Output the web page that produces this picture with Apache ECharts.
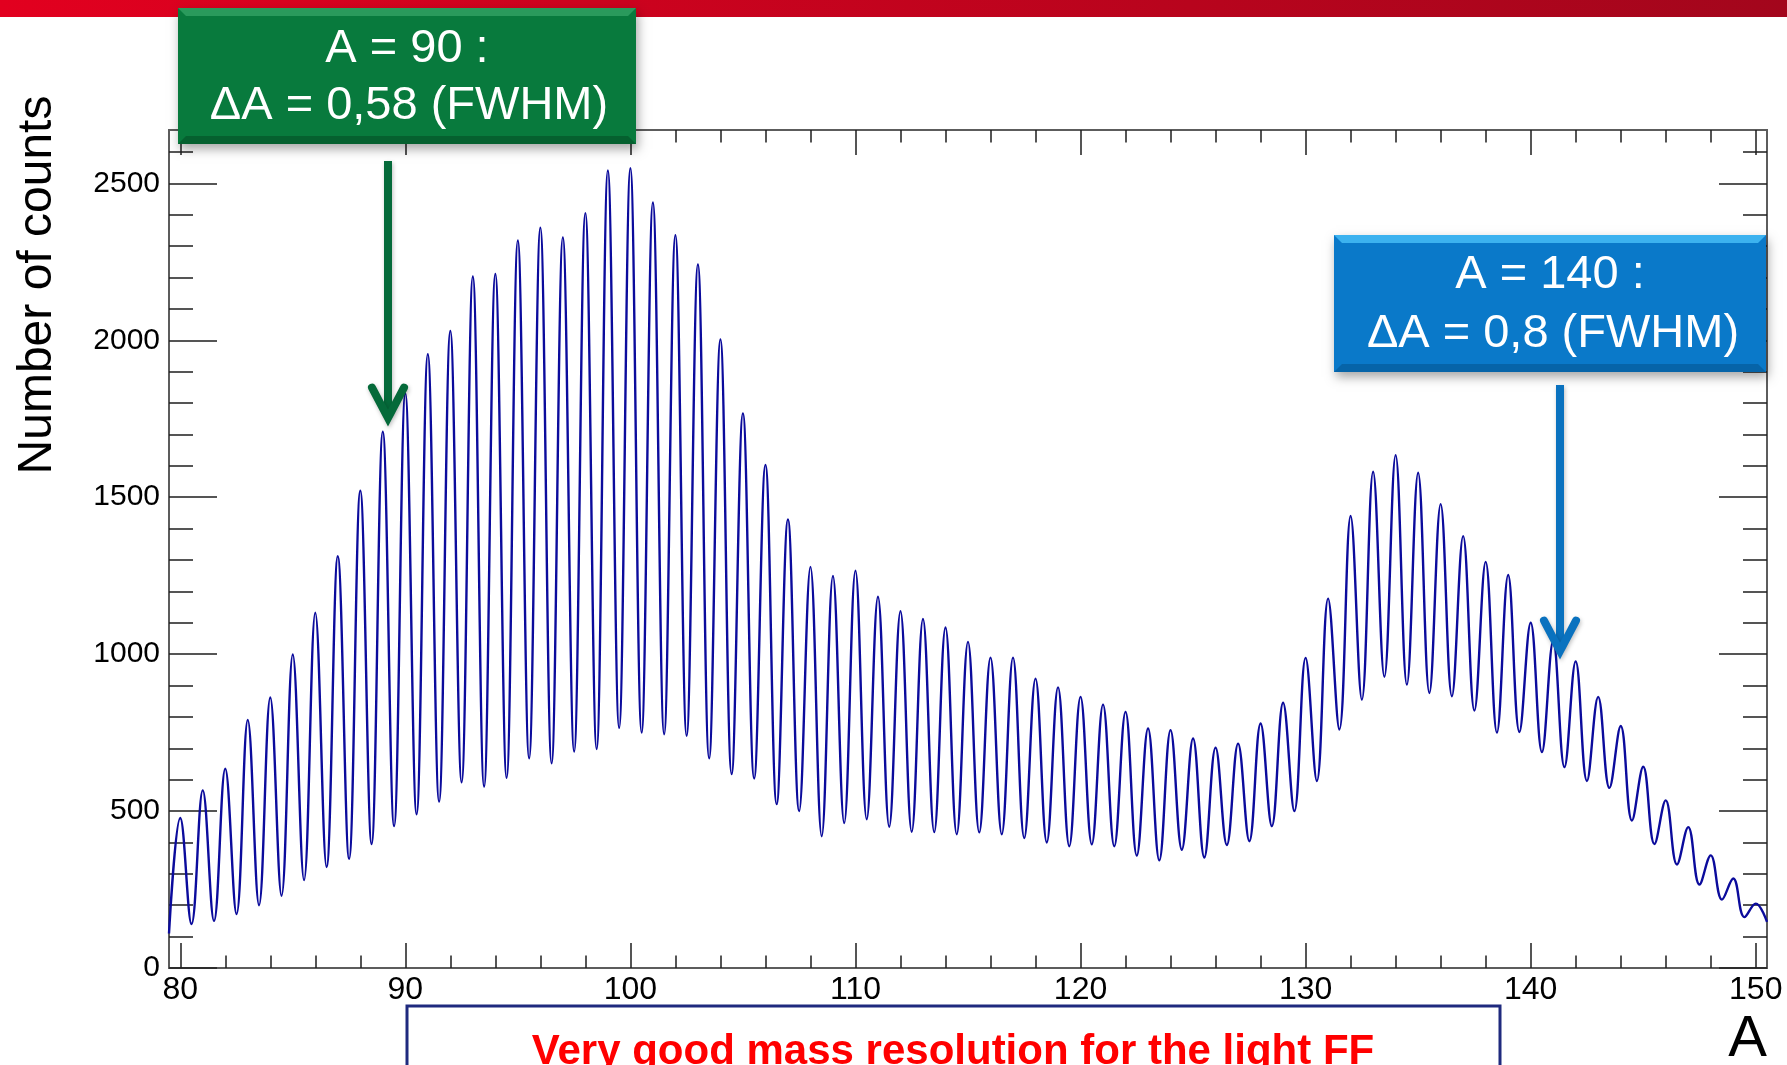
<!DOCTYPE html>
<html>
<head>
<meta charset="utf-8">
<script src="https://cdn.jsdelivr.net/npm/echarts@6/dist/echarts.min.js"></script>
<style>
  html, body { margin: 0; padding: 0; background: #ffffff; }
  #chart { width: 1787px; height: 1065px; }
</style>
</head>
<body>
<div id="chart"></div>
<script>
// Fission-fragment mass distribution: counts per mass number A.
// Peaks sit on integer A, valleys half-way between neighbouring masses.
const massNumbers = [
  80, 81, 82, 83, 84, 85, 86, 87, 88, 89,
  90, 91, 92, 93, 94, 95, 96, 97, 98, 99,
  100, 101, 102, 103, 104, 105, 106, 107, 108, 109,
  110, 111, 112, 113, 114, 115, 116, 117, 118, 119,
  120, 121, 122, 123, 124, 125, 126, 127, 128, 129,
  130, 131, 132, 133, 134, 135, 136, 137, 138, 139,
  140, 141, 142, 143, 144, 145, 146, 147, 148, 149,
  150
];
const peakCounts = [
  478, 566, 635, 790, 862, 999, 1132, 1312, 1521, 1709,
  1831, 1956, 2030, 2203, 2211, 2318, 2359, 2328, 2405, 2541,
  2548, 2439, 2335, 2242, 2003, 1767, 1603, 1429, 1278, 1249,
  1266, 1183, 1137, 1112, 1085, 1039, 989, 989, 922, 894,
  864, 839, 816, 763, 758, 731, 702, 715, 779, 845,
  988, 1177, 1440, 1581, 1634, 1578, 1478, 1376, 1294, 1252,
  1100, 1042, 977, 864, 771, 641, 534, 449, 359, 285,
  205
];
// valleyCounts[i] lies between massNumbers[i] and massNumbers[i + 1]
const valleyCounts = [
  140, 150, 172, 200, 230, 280, 322, 348, 395, 452,
  490, 530, 592, 578, 606, 668, 652, 690, 698, 765,
  750, 745, 740, 668, 618, 604, 522, 500, 420, 462,
  474, 450, 434, 433, 426, 432, 426, 414, 400, 388,
  394, 388, 358, 343, 377, 352, 392, 404, 452, 500,
  596, 760, 855, 928, 903, 876, 866, 820, 750, 752,
  688, 640, 596, 574, 470, 395, 330, 266, 218, 162
];
const edgeCounts = [110, 147];   // first and last bin of the spectrum

const xMajorTicks = [80, 90, 100, 110, 120, 130, 140, 150];
const xMinorTicks = [82, 84, 86, 88, 92, 94, 96, 98, 102, 104, 106, 108, 112, 114, 116, 118,
                     122, 124, 126, 128, 132, 134, 136, 138, 142, 144, 146, 148];
const yMajorTicks = [0, 500, 1000, 1500, 2000, 2500];
const yMinorTicks = [100, 200, 300, 400, 600, 700, 800, 900, 1100, 1200, 1300, 1400,
                     1600, 1700, 1800, 1900, 2100, 2200, 2300, 2400, 2600];

const xRange = [79.5, 150.5];
const yRange = [0, 2670];

// interleave peaks and valleys into one trace
const spectrum = [[xRange[0], edgeCounts[0]]];
massNumbers.forEach((a, i) => {
  spectrum.push([a, peakCounts[i]]);
  if (i < valleyCounts.length) spectrum.push([a + 0.5, valleyCounts[i]]);
});
spectrum.push([xRange[1], edgeCounts[1]]);

const FONT = "'Liberation Sans', Arial, Helvetica, sans-serif";
const frameColor = '#5c5c5c';
const tickColor = '#1e1e1e';
const plain = (v) => String(v);

function xAxisDef(position, ticks, len, labels) {
  return {
    type: 'value', position: position, min: xRange[0], max: xRange[1],
    axisLine: { show: true, onZero: false, lineStyle: { color: frameColor, width: 2 } },
    axisTick: { show: true, inside: true, length: len, customValues: ticks,
                lineStyle: { color: tickColor, width: 1.5 } },
    axisLabel: labels
      ? { show: true, customValues: labels, formatter: plain, fontSize: 32, color: '#000',
          margin: 6, fontFamily: FONT }
      : { show: false },
    splitLine: { show: false }, minorTick: { show: false }
  };
}
function yAxisDef(position, ticks, len, labels) {
  return {
    type: 'value', position: position, min: yRange[0], max: yRange[1],
    axisLine: { show: true, onZero: false, lineStyle: { color: frameColor, width: 2 } },
    axisTick: { show: true, inside: true, length: len, customValues: ticks,
                lineStyle: { color: tickColor, width: 1.5 } },
    axisLabel: labels
      ? { show: true, customValues: labels, formatter: plain, fontSize: 30, color: '#000',
          margin: 9, fontFamily: FONT }
      : { show: false },
    splitLine: { show: false }, minorTick: { show: false }
  };
}

function bevelBox(x, y, w, h, base, light, dark) {
  const b = 8;
  return [
    { type: 'rect', z: 100, shape: { x: x, y: y, width: w, height: h },
      style: { fill: base, shadowBlur: 10, shadowOffsetX: 2, shadowOffsetY: 5,
               shadowColor: 'rgba(0,0,0,0.35)' } },
    { type: 'polygon', z: 101,
      shape: { points: [[x, y], [x + w, y], [x + w - b, y + b], [x + b, y + b]] },
      style: { fill: light } },
    { type: 'polygon', z: 101,
      shape: { points: [[x, y + h], [x + w, y + h], [x + w - b, y + h - b], [x + b, y + h - b]] },
      style: { fill: dark } }
  ];
}

function label(text, x, y, size, extra) {
  return Object.assign({
    type: 'text', z: 110, x: x, y: y,
    style: { text: text, fontSize: size, fontFamily: FONT, fill: '#ffffff',
             textAlign: 'center', textVerticalAlign: 'middle' }
  }, extra || {});
}

function arrow(x, yTop, yTip, color, head) {
  return [
    { type: 'line', z: 105, shape: { x1: x, y1: yTop, x2: x, y2: yTip - 4 },
      style: { stroke: color, lineWidth: 8, shadowBlur: 4, shadowOffsetX: 1, shadowOffsetY: 2,
               shadowColor: 'rgba(0,0,0,0.25)' } },
    { type: 'polyline', z: 105,
      shape: { points: [[x - head, yTip - head * 1.9], [x, yTip], [x + head, yTip - head * 1.9]] },
      style: { stroke: color, fill: null, lineWidth: 8, lineCap: 'round', lineJoin: 'miter',
               shadowBlur: 4, shadowOffsetX: 1, shadowOffsetY: 2, shadowColor: 'rgba(0,0,0,0.25)' } }
  ];
}

const graphics = [].concat(
  [{ type: 'rect', z: 90, shape: { x: 0, y: 0, width: 1787, height: 17 },
     style: { fill: new echarts.graphic.LinearGradient(0, 0, 1, 0, [
       { offset: 0, color: '#e2001f' }, { offset: 1, color: '#a3061c' }]) } }],
  bevelBox(178, 8, 458, 136, '#087a3d', '#2a9a5c', '#05602f'),
  [label('A = 90 :', 407, 48.7, 47), label('\u0394A = 0,58 (FWHM)', 409, 105.7, 47)],
  arrow(388, 161, 418, '#056a3a', 16),
  bevelBox(1334, 235, 432, 137, '#0a79c9', '#3cb2ef', '#0664a8'),
  [label('A = 140 :', 1550, 275.4, 47), label('\u0394A = 0,8 (FWHM)', 1553, 333.7, 47)],
  arrow(1560, 385, 651, '#0a72bf', 16),
  [
    { type: 'text', z: 110, x: 38, y: 285, rotation: Math.PI / 2,
      style: { text: 'Number of counts', fontSize: 48, fontFamily: FONT, fill: '#000',
               textAlign: 'center', textVerticalAlign: 'middle' } },
    { type: 'text', z: 110, x: 1767, y: 1040,
      style: { text: 'A', fontSize: 58, fontFamily: FONT, fill: '#000',
               textAlign: 'right', textVerticalAlign: 'middle' } },
    { type: 'rect', z: 95, shape: { x: 407, y: 1006, width: 1093, height: 80 },
      style: { fill: '#ffffff', stroke: '#1f2a7e', lineWidth: 3 } },
    { type: 'text', z: 110, x: 953, y: 1052,
      style: { text: 'Very good mass resolution for the light FF', fontSize: 42, fontWeight: 'bold',
               fontFamily: FONT, fill: '#ff0000', textAlign: 'center', textVerticalAlign: 'middle' } }
  ]
);

const chart = echarts.init(document.getElementById('chart'), null, { renderer: 'canvas' });
chart.setOption({
  animation: false,
  backgroundColor: '#ffffff',
  grid: { left: 169, top: 130, width: 1598, height: 838, containLabel: false },
  xAxis: [
    xAxisDef('bottom', xMajorTicks, 25, xMajorTicks),
    xAxisDef('bottom', xMinorTicks, 12.5, null),
    xAxisDef('top', xMajorTicks, 25, null),
    xAxisDef('top', xMinorTicks, 12.5, null)
  ],
  yAxis: [
    yAxisDef('left', yMajorTicks, 48, yMajorTicks),
    yAxisDef('left', yMinorTicks, 24, null),
    yAxisDef('right', yMajorTicks, 48, null),
    yAxisDef('right', yMinorTicks, 24, null)
  ],
  series: [{
    type: 'line', xAxisIndex: 0, yAxisIndex: 0,
    data: spectrum, smooth: 0.4, showSymbol: false, symbol: 'none',
    lineStyle: { color: '#0b0b9c', width: 2.4 }, z: 5
  }],
  graphic: { elements: graphics }
});
</script>
</body>
</html>
